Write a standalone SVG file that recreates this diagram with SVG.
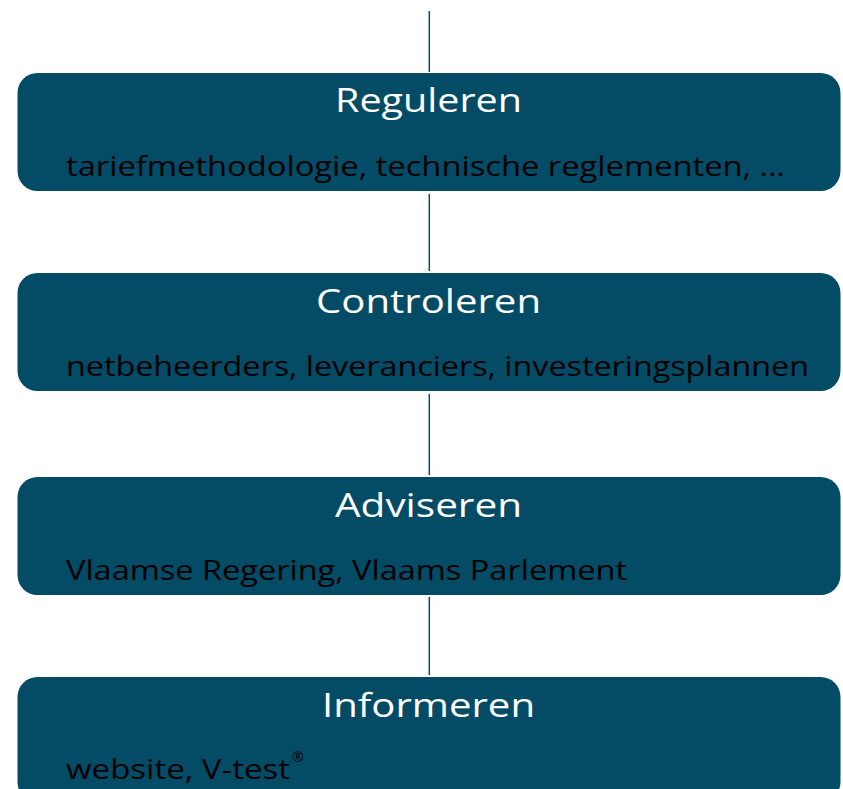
<svg xmlns="http://www.w3.org/2000/svg" width="843" height="789" viewBox="0 0 843 789">
<style>
.box{fill:#044B66;}
.title{font-family:"Open Sans","Liberation Sans",sans-serif;font-size:33px;fill:#ffffff;text-anchor:middle;}
.sub{font-family:"Open Sans","Liberation Sans",sans-serif;font-size:28px;fill:#000000;}
.conn{stroke:#044B66;stroke-width:1.5;fill:none;}
</style>
<rect width="843" height="789" fill="#ffffff"/>
<g id="connectors">
<line class="conn" x1="429.3" y1="11" x2="429.3" y2="72"/>
<line class="conn" x1="429.3" y1="194" x2="429.3" y2="271"/>
<line class="conn" x1="429.3" y1="394" x2="429.3" y2="475"/>
<line class="conn" x1="429.3" y1="597" x2="429.3" y2="675"/>
</g>
<g id="reguleren">
<rect class="box" x="17.5" y="73" width="823" height="118" rx="20"/>
<text class="title" x="428.5" y="112" textLength="187" lengthAdjust="spacingAndGlyphs">Reguleren</text>
<text class="sub" x="66" y="176" textLength="719" lengthAdjust="spacingAndGlyphs">tariefmethodologie, technische reglementen, …</text>
</g>
<g id="controleren">
<rect class="box" x="17.5" y="273" width="823" height="118" rx="20"/>
<text class="title" x="428.5" y="313" textLength="225" lengthAdjust="spacingAndGlyphs">Controleren</text>
<text class="sub" x="66" y="376" textLength="743" lengthAdjust="spacingAndGlyphs">netbeheerders, leveranciers, investeringsplannen</text>
</g>
<g id="adviseren">
<rect class="box" x="17.5" y="477" width="823" height="118" rx="20"/>
<text class="title" x="428.5" y="517" textLength="187" lengthAdjust="spacingAndGlyphs">Adviseren</text>
<text class="sub" x="66" y="580" textLength="561" lengthAdjust="spacingAndGlyphs">Vlaamse Regering, Vlaams Parlement</text>
</g>
<g id="informeren">
<rect class="box" x="17.5" y="677" width="823" height="125" rx="20"/>
<text class="title" x="428.5" y="717" textLength="213" lengthAdjust="spacingAndGlyphs">Informeren</text>
<text class="sub" x="66" y="779"><tspan textLength="224" lengthAdjust="spacingAndGlyphs">website, V-test</tspan><tspan font-size="14" dy="-17" dx="2">®</tspan></text>
</g>
</svg>
